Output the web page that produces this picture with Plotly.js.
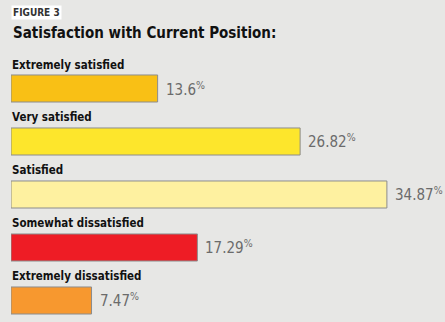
<!DOCTYPE html>
<html><head><meta charset="utf-8">
<script src="https://cdn.plot.ly/plotly-3.0.1.min.js"></script>
<style>body{margin:0;background:#e7e7e5;}#chart{width:445px;height:322px;}</style>
</head><body><div id="chart"></div>
<script>
var categories = ["Extremely satisfied","Very satisfied","Satisfied","Somewhat dissatisfied","Extremely dissatisfied"];
var values = [13.6, 26.82, 34.87, 17.29, 7.47];
var valueLabels = ["13.6","26.82","34.87","17.29","7.47"];
var barColors = ["#f9c015","#fde62c","#fef1a0","#ee1c25","#f7982f"];

var idx = categories.map(function(c,i){return i;});
var COND = "DejaVu Sans Condensed";

var trace = {
  type:"bar", orientation:"h",
  x: values, y: idx,
  width: 0.51,
  marker:{color:barColors, line:{color:"#8c8c8c", width:1}},
  hoverinfo:"none"
};

var annotations = [];
categories.forEach(function(c,i){
  annotations.push({xref:"x", yref:"y", x:0, y:i, text:c, showarrow:false,
    xanchor:"left", yanchor:"middle", xshift:-1, yshift:24,
    font:{family:COND, size:11.5, color:"#111", weight:"bold"}});
  annotations.push({xref:"x", yref:"y", x:values[i], y:i, text:valueLabels[i]+"<sup>%</sup>", showarrow:false,
    xanchor:"left", yanchor:"middle", xshift:6, yshift:0,
    font:{family:COND, size:15, color:"#6b6b6b"}});
});
annotations.push({xref:"paper", yref:"paper", x:-0.0, y:1, yshift:50, text:"FIGURE 3", showarrow:false,
  xanchor:"left", yanchor:"middle", bgcolor:"#ffffff", borderpad:1,
  font:{family:COND, size:10, color:"#333", weight:"bold"}});
annotations.push({xref:"paper", yref:"paper", x:0, y:1, yshift:29, text:"Satisfaction with Current Position:", showarrow:false,
  xanchor:"left", yanchor:"middle",
  font:{family:COND, size:15, color:"#111", weight:"bold"}});

var layout = {
  width:445, height:322,
  margin:{l:11, r:0, t:62, b:0},
  paper_bgcolor:"#e7e7e5", plot_bgcolor:"#e7e7e5",
  xaxis:{range:[0,40.26], visible:false, fixedrange:true},
  yaxis:{range:[4.406,-0.5], visible:false, fixedrange:true},
  showlegend:false,
  annotations:annotations
};
Plotly.newPlot("chart",[trace],layout,{displayModeBar:false, staticPlot:true});
</script></body></html>
